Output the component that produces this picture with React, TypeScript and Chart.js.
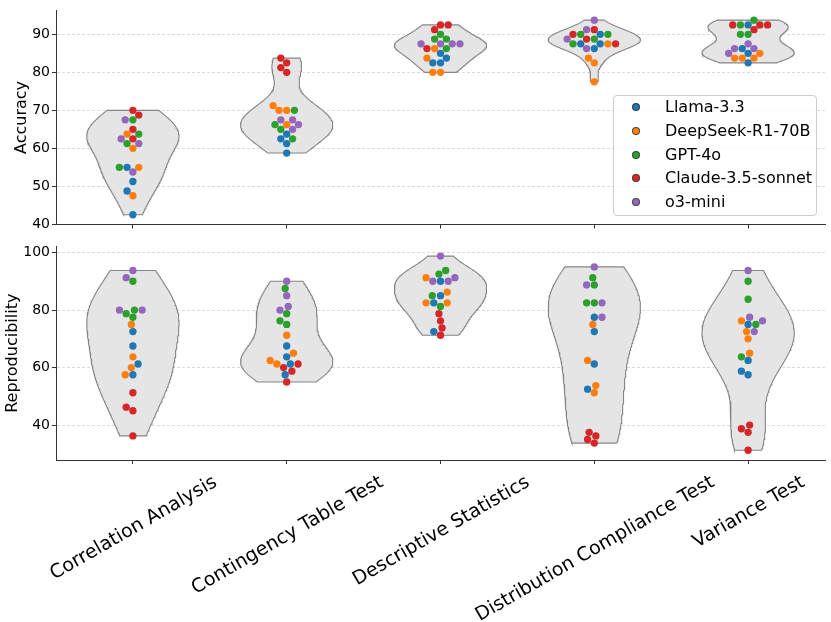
import React, { useEffect, useRef } from 'react';
import { Chart, registerables } from 'chart.js';

Chart.register(...registerables);

const CATEGORIES = [
  'Correlation Analysis',
  'Contingency Table Test',
  'Descriptive Statistics',
  'Distribution Compliance Test',
  'Variance Test',
];
const MODELS = ['Llama-3.3', 'DeepSeek-R1-70B', 'GPT-4o', 'Claude-3.5-sonnet', 'o3-mini'];
const MODEL_COLORS = ['#1f77b4', '#ff7f0e', '#2ca02c', '#d62728', '#9467bd'];

// Accuracy: per model, per category (4 runs each)
const ACC_LLAMA = [[55, 51.25, 48.75, 42.5], [63.75, 62.5, 61.25, 58.75], [85, 83.75, 82.5, 82.5], [90, 87.5, 87.5, 86.25], [92.5, 86.25, 85, 82.5]];
const ACC_DEEPSEEK = [[63.75, 60, 55, 47.5], [71.25, 70, 70, 66.25], [86.25, 83.75, 80, 80], [87.5, 83.75, 82.5, 77.5], [85, 83.75, 83.75, 83.75]];
const ACC_GPT4O = [[67.5, 63.75, 61.25, 55], [70, 66.25, 65, 62.5], [90, 88.75, 88.75, 86.25], [90, 90, 88.75, 87.5], [93.75, 92.5, 90, 90]];
const ACC_CLAUDE = [[70, 68.75, 65, 62.5], [83.75, 82.5, 81.25, 80], [92.5, 92.5, 91.25, 86.25], [91.25, 90, 88.75, 87.5], [92.5, 92.5, 92.5, 91.25]];
const ACC_O3MINI = [[67.5, 62.5, 61.25, 53.75], [67.5, 67.5, 66.25, 65], [87.5, 87.5, 87.5, 87.5], [93.75, 91.25, 88.75, 86.25], [87.5, 86.25, 86.25, 85]];

// Reproducibility: per model, per category (4 runs each)
const REP_LLAMA = [[72.5, 67.5, 61.25, 57.5], [67.5, 63.75, 61.25, 57.5], [90, 85, 82.5, 72.5], [77.5, 72.5, 61.25, 52.5], [75, 62.5, 58.75, 57.5]];
const REP_DEEPSEEK = [[75, 63.75, 60, 57.5], [71.25, 65, 62.5, 61.25], [91.25, 86.25, 82.5, 82.5], [75, 62.5, 53.75, 51.25], [76.25, 72.5, 70, 65]];
const REP_GPT4O = [[90, 80, 78.75, 77.5], [87.5, 78.75, 76.25, 75], [93.75, 92.5, 85, 81.25], [91.25, 88.75, 82.5, 82.5], [90, 83.75, 75, 63.75]];
const REP_CLAUDE = [[51.25, 46.25, 45, 36.25], [61.25, 60, 58.75, 55], [78.75, 76.25, 73.75, 71.25], [37.5, 36.25, 35, 33.75], [40, 38.75, 37.5, 31.25]];
const REP_O3MINI = [[93.75, 91.25, 80, 80], [90, 85, 81.25, 80], [98.75, 91.25, 90, 90], [95, 88.75, 82.5, 77.5], [93.75, 77.5, 76.25, 72.5]];

const ACCURACY = [ACC_LLAMA, ACC_DEEPSEEK, ACC_GPT4O, ACC_CLAUDE, ACC_O3MINI];
const REPRODUCIBILITY = [REP_LLAMA, REP_DEEPSEEK, REP_GPT4O, REP_CLAUDE, REP_O3MINI];

const ACC_TICKS = [40, 50, 60, 70, 80, 90];
const REP_TICKS = [40, 60, 80, 100];

const FONT = '"DejaVu Sans", "Liberation Sans", sans-serif';
const POINT_R = 3.67;
const VIOLIN_HALF = 0.3;
const GRID_COLOR = 'rgba(150,150,150,0.45)';
const AXIS_COLOR = '#333333';

function violinPolygon(cat: number, values: number[]) {
  const n = values.length;
  const mean = values.reduce((a, b) => a + b, 0) / n;
  const variance = values.reduce((a, b) => a + (b - mean) * (b - mean), 0) / (n - 1);
  const bw = Math.sqrt(variance) * Math.pow(n, -0.2);
  const lo = Math.min(...values);
  const hi = Math.max(...values);
  const grid = 100;
  const prof: { y: number; d: number }[] = [];
  for (let i = 0; i < grid; i++) {
    const y = lo + ((hi - lo) * i) / (grid - 1);
    let d = 0;
    for (const v of values) d += Math.exp(-0.5 * ((y - v) / bw) ** 2);
    prof.push({ y, d });
  }
  const m = Math.max(...prof.map((p) => p.d));
  const right = prof.map((p) => ({ x: cat + (VIOLIN_HALF * p.d) / m, y: p.y }));
  const left = prof
    .slice()
    .reverse()
    .map((p) => ({ x: cat - (VIOLIN_HALF * p.d) / m, y: p.y }));
  return [...right, ...left, right[0]];
}

function swarmOffsets(ys: number[], r: number): number[] {
  const order = ys.map((_, i) => i).sort((a, b) => ys[a] - ys[b]);
  const placed: { x: number; y: number }[] = [];
  const out = new Array(ys.length).fill(0);
  for (const k of order) {
    const y = ys[k];
    const nb: { x: number; y: number }[] = [];
    for (let j = placed.length - 1; j >= 0; j--) {
      if (y - placed[j].y < 2 * r) nb.unshift(placed[j]);
      else break;
    }
    const cands: number[] = [0];
    let leftFirst = true;
    for (const p of nb) {
      const dy = y - p.y;
      const dx = Math.sqrt(Math.max(4 * r * r - dy * dy, 0)) * 1.05;
      const cl = p.x - dx;
      const cr = p.x + dx;
      if (leftFirst) cands.push(cl, cr);
      else cands.push(cr, cl);
      leftFirst = !leftFirst;
    }
    const sorted = cands
      .map((c, i) => ({ c, i }))
      .sort((a, b) => Math.abs(a.c) - Math.abs(b.c) || a.i - b.i)
      .map((o) => o.c);
    let chosen = sorted[0];
    for (const c of sorted) {
      if (nb.every((p) => (p.x - c) ** 2 + (p.y - y) ** 2 >= 4 * r * r - 1e-9)) {
        chosen = c;
        break;
      }
    }
    placed.push({ x: chosen, y });
    out[k] = chosen;
  }
  return out;
}

const rotatedLabels = {
  id: 'rotatedLabels',
  afterDraw(chart: any) {
    const { ctx, chartArea } = chart;
    const xs = chart.scales.x;
    const size = 19;
    const ang = (30 * Math.PI) / 180;
    const top = chartArea.bottom + 10;
    ctx.save();
    ctx.font = `${size}px ${FONT}`;
    ctx.fillStyle = '#000000';
    CATEGORIES.forEach((label, i) => {
      const x = xs.getPixelForValue(i);
      const w = ctx.measureText(label).width;
      const h = size * 1.164;
      const H = w * Math.sin(ang) + h * Math.cos(ang);
      ctx.save();
      ctx.translate(x, top + H / 2);
      ctx.rotate(-ang);
      ctx.textAlign = 'center';
      ctx.textBaseline = 'alphabetic';
      ctx.fillText(label, 0, size * 0.346);
      ctx.restore();
    });
    ctx.restore();
  },
};

function buildChart(
  canvas: HTMLCanvasElement,
  panel: number[][][],
  ticks: number[],
  title: string,
  padTop: number,
  xHeight: number,
  titlePad: number,
  withLabels: boolean
) {
  const all = panel.flat(2);
  const lo = Math.min(...all);
  const hi = Math.max(...all);
  const margin = (hi - lo) * 0.05;

  const pointSets = MODELS.map((m, mi) => ({
    type: 'scatter' as const,
    label: m,
    data: panel[mi].flatMap((vals, ci) => vals.map((v) => ({ x: ci, y: v }))),
    backgroundColor: MODEL_COLORS[mi],
    borderWidth: 0,
    pointRadius: POINT_R,
    pointHoverRadius: POINT_R,
  }));
  const violinSets = CATEGORIES.map((_, ci) => ({
    type: 'line' as const,
    label: 'violin-' + ci,
    data: violinPolygon(
      ci,
      panel.flatMap((model) => model[ci])
    ),
    borderColor: '#858585',
    borderWidth: 1.1,
    backgroundColor: '#e5e5e5',
    fill: 'shape',
    pointRadius: 0,
    pointHoverRadius: 0,
    tension: 0,
  }));

  const chart = new Chart(canvas, {
    type: 'scatter',
    data: { datasets: [...pointSets, ...violinSets] as any },
    plugins: withLabels ? [rotatedLabels] : [],
    options: {
      animation: false,
      responsive: true,
      maintainAspectRatio: false,
      events: [],
      layout: { padding: { top: padTop, right: 6, left: 0, bottom: 0 } },
      plugins: { legend: { display: false }, tooltip: { enabled: false } },
      scales: {
        x: {
          type: 'linear',
          min: -0.5,
          max: 4.5,
          afterBuildTicks: (s: any) => {
            s.ticks = CATEGORIES.map((_, i) => ({ value: i }));
          },
          afterFit: (s: any) => {
            s.height = xHeight;
          },
          ticks: { display: false },
          grid: {
            drawOnChartArea: false,
            drawTicks: true,
            tickLength: 4,
            tickColor: AXIS_COLOR,
            tickWidth: 1,
          },
          border: { color: AXIS_COLOR, width: 1 },
        },
        y: {
          type: 'linear',
          min: lo - margin,
          max: hi + margin,
          afterBuildTicks: (s: any) => {
            s.ticks = ticks.map((v) => ({ value: v }));
          },
          afterFit: (s: any) => {
            s.width = 56;
          },
          ticks: { color: '#000000', font: { family: FONT, size: 14 }, padding: 2 },
          grid: {
            color: GRID_COLOR,
            lineWidth: 0.8,
            drawTicks: true,
            tickLength: 4,
            tickColor: AXIS_COLOR,
            tickWidth: 1,
            tickBorderDash: [],
          },
          border: { color: AXIS_COLOR, width: 1, dash: [3, 2] },
          title: {
            display: true,
            text: title,
            color: '#000000',
            font: { family: FONT, size: 16 },
            padding: { top: titlePad, bottom: 0 },
          },
        },
      },
    } as any,
  });

  // beeswarm placement in pixel space, via the chart's own scales
  const xs = chart.scales.x;
  const ysc = chart.scales.y;
  const pxPerCat = xs.getPixelForValue(1) - xs.getPixelForValue(0);
  CATEGORIES.forEach((_, ci) => {
    const refs: { mi: number; idx: number; v: number }[] = [];
    panel.forEach((model, mi) => {
      model[ci].forEach((v, j) => refs.push({ mi, idx: ci * 4 + j, v }));
    });
    const pix = refs.map((r) => -ysc.getPixelForValue(r.v));
    const offs = swarmOffsets(pix, POINT_R);
    refs.forEach((r, k) => {
      (chart.data.datasets[r.mi].data[r.idx] as any).x = ci + offs[k] / pxPerCat;
    });
  });
  chart.update('none');
  return chart;
}

export default function App() {
  const topRef = useRef<HTMLCanvasElement>(null);
  const botRef = useRef<HTMLCanvasElement>(null);

  useEffect(() => {
    const c1 = buildChart(topRef.current!, ACCURACY, ACC_TICKS, 'Accuracy', 5, 11.5, 12, false);
    const c2 = buildChart(botRef.current!, REPRODUCIBILITY, REP_TICKS, 'Reproducibility', 4.7, 162, 3, true);
    return () => {
      c1.destroy();
      c2.destroy();
    };
  }, []);

  return (
    <div style={{ position: 'absolute', left: 0, top: 0, width: 831, height: 622, background: '#ffffff', fontFamily: FONT }}>
      <div style={{ position: 'absolute', left: 0, top: 0, width: 831, height: 236 }}>
        <canvas ref={topRef} />
      </div>
      <div style={{ position: 'absolute', left: 0, top: 236, width: 831, height: 386 }}>
        <canvas ref={botRef} />
      </div>
      <div
        style={{
          position: 'absolute',
          left: 613,
          top: 95,
          width: 204,
          height: 121,
          boxSizing: 'border-box',
          background: 'rgba(255,255,255,0.8)',
          border: '1px solid #cccccc',
          borderRadius: 4,
        }}
      >
        {MODELS.map((m, i) => (
          <div key={m} style={{ position: 'absolute', left: 0, top: 11.3 + 23.6 * i - 10, height: 20, width: 200 }}>
            <span
              style={{
                position: 'absolute',
                left: 18,
                top: 6,
                width: 8,
                height: 8,
                boxSizing: 'border-box',
                borderRadius: '50%',
                background: MODEL_COLORS[i],
                border: '0.7px solid rgba(50,50,50,0.8)',
              }}
            />
            <span
              style={{
                position: 'absolute',
                left: 51,
                top: 0,
                lineHeight: '20px',
                fontSize: 16,
                fontFamily: FONT,
                color: '#000000',
                whiteSpace: 'nowrap',
              }}
            >
              {m}
            </span>
          </div>
        ))}
      </div>
    </div>
  );
}
